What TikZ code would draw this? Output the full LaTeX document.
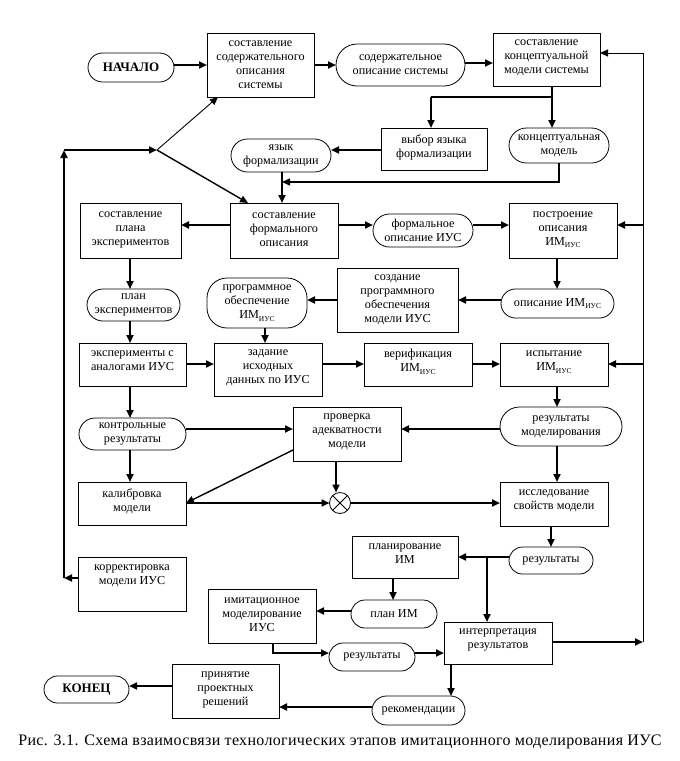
\documentclass[tikz,border=0pt]{standalone}
\usepackage{fontspec}
\setmainfont{Liberation Serif}
\newfontfamily\nodefont{Liberation Serif}
\newfontfamily\capfont{Liberation Serif}[LetterSpace=2]
\usetikzlibrary{arrows.meta}
\newcommand\imius{ИМ\raisebox{-2.5pt}{\fontsize{7.5}{8}\selectfont ИУС}}
\newcommand\bt[4]{\parbox[c][#2pt][c]{#1pt}{\centering #4\par\vspace{#3pt}}}
\tikzset{
  every node/.style={inner sep=0pt, outer sep=0pt},
  box/.style={draw, line width=0.9pt, font=\nodefont\fontsize{12.2}{14}\selectfont},
  oval/.style={draw, rectangle, rounded corners=#1, line width=0.8pt, align=center, font=\nodefont\fontsize{12.2}{14}\selectfont},
  tip/.style={-{Triangle[length=8pt,width=7pt]}},
  arr/.style={line width=2pt, tip},
  marr/.style={line width=1.4pt, tip},
  tarr/.style={line width=0.9pt, tip},
}
\begin{document}
\begin{tikzpicture}[x=1pt,y=-1pt]
\useasboundingbox (0,0) rectangle (680,761);
\fill[white] (0,0) rectangle (680,761);

% terminal nodes
\node[oval=14.5pt, minimum width=86pt, minimum height=29pt, font=\nodefont\bfseries\fontsize{13}{14}\selectfont] (start) at (131,67.5) {НАЧАЛО};
\node[oval=13.5pt, minimum width=85pt, minimum height=27pt, font=\nodefont\bfseries\fontsize{13}{14}\selectfont] (end) at (86.5,689.5) {КОНЕЦ};

% boxes
\node[box] (s1) at (260.5,65) {\bt{107}{64}{0}{составление\\содержательного\\описания\\системы}};
\node[box] (s2) at (546.5,59.5) {\bt{107}{53}{3}{составление\\концептуальной\\модели системы}};
\node[box] (s3) at (434,149) {\bt{106}{42}{3}{выбор языка\\формализации}};
\node[box] (s4) at (130.5,230.5) {\bt{101}{55}{2}{составление\\плана\\экспериментов}};
\node[box] (s5) at (284,230.5) {\bt{108}{55}{2}{составление\\формального\\описания}};
\node[box] (s6) at (563,230.5) {\bt{108}{55}{2}{построение\\описания\\\imius}};
\node[box] (s7) at (397.5,300) {\bt{121}{64}{0}{создание\\программного\\обеспечения\\модели ИУС}};
\node[box] (s8) at (132.5,364.5) {\bt{107}{43}{7}{эксперименты с\\аналогами ИУС}};
\node[box] (s9) at (268,369.5) {\bt{108}{53}{3}{задание\\исходных\\данных по ИУС}};
\node[box] (s10) at (418,364.5) {\bt{108}{43}{5}{верификация\\\imius}};
\node[box] (s11) at (554,364.5) {\bt{108}{43}{5}{испытание\\\imius}};
\node[box] (s12) at (347,434) {\bt{108}{54}{4}{проверка\\адекватности\\модели}};
\node[box] (s13) at (132,503.5) {\bt{108}{43}{5}{калибровка\\модели}};
\node[box] (s14) at (554,504) {\bt{108}{44}{6}{исследование\\свойств модели}};
\node[box] (s15) at (405,557) {\bt{106}{42}{6}{планирование\\ИМ}};
\node[box] (s16) at (262,616) {\bt{108}{54}{2}{имитационное\\моделирование\\ИУС}};
\node[box] (s17) at (498,643) {\bt{108}{42}{6}{интерпретация\\результатов}};
\node[box] (s18) at (225.5,691) {\bt{107}{54}{2}{принятие\\проектных\\решений}};
\node[box] (s19) at (132,584) {\bt{108}{54}{17}{корректировка\\модели ИУС}};

% data ovals
\node[oval=21pt, minimum width=129pt, minimum height=42pt] (d1) at (400.5,65) {содержательное\\описание системы};
\node[oval=17.5pt, minimum width=100pt, minimum height=35pt] (d2) at (559,145.5) {концептуальная\\модель};
\node[oval=16.5pt, minimum width=100pt, minimum height=33pt] (d3) at (281,155.5) {язык\\формализации};
\node[oval=16.5pt, minimum width=100pt, minimum height=33pt] (d4) at (423,230.5) {формальное\\описание ИУС};
\node[oval=14.5pt, minimum width=113pt, minimum height=29pt] (d5) at (557.5,303.5) {описание \imius};
\node[oval=20pt, minimum width=100pt, minimum height=50pt] (d6) at (257,303) {программное\\обеспечение\\\imius};
\node[oval=16pt, minimum width=93pt, minimum height=32pt] (d7) at (133.5,305) {план\\экспериментов};
\node[oval=19.5pt, minimum width=122pt, minimum height=39pt] (d8) at (561,426.5) {результаты\\моделирования};
\node[oval=16pt, minimum width=107pt, minimum height=32pt] (d9) at (132.5,434) {контрольные\\результаты};
\node[oval=13.5pt, minimum width=84pt, minimum height=27pt] (d10) at (551,560.5) {результаты};
\node[oval=14pt, minimum width=86pt, minimum height=28pt] (d11) at (394,614) {план ИМ};
\node[oval=14pt, minimum width=86pt, minimum height=28pt] (d12) at (372,657) {результаты};
\node[oval=14.5pt, minimum width=93pt, minimum height=29pt] (d13) at (418.5,710.5) {рекомендации};

% summing junction
\node[draw, circle, minimum size=21pt, line width=0.8pt] (cx) at (340,503) {};
\draw[line width=0.8pt] (cx.north west) -- (cx.south east) (cx.north east) -- (cx.south west);

% caption
\node[font=\capfont\fontsize{16}{18}\selectfont] (cap) at (340,742) {Рис. 3.1. Схема взаимосвязи технологических этапов имитационного моделирования ИУС};

% helper coordinates
\coordinate (j1) at (552,97);
\coordinate (j2) at (282,182);
\coordinate (j3) at (487,557);
\coordinate (lb) at (64,578);
\coordinate (lt) at (64,150);
\coordinate (sp) at (157,150);
\coordinate (rb) at (643,642);
\coordinate (rt) at (643,53);

% connectors
\draw[arr] (start.east |- 0,65) -- (s1.west |- 0,65);
\draw[arr] (s1.east |- 0,65) -- (d1.west |- 0,65);
\draw[arr] (d1.east |- 0,63) -- (s2.west |- 0,63);
\draw[arr] (s2.south -| j1) -- (j1 |- d2.north);
\draw[line width=1.2pt] (j1) -- (j1 -| 431,0);
\draw[arr] (j1 -| 431,0) -- (s3.north -| 431,0);
\draw[arr] (s3.west |- 0,150) -- (d3.east |- 0,150);
\draw[marr] (d2.south -| 559,0) -- (559,182) -- (j2);
\draw[arr] (d3.south -| j2) -- (s5.north -| j2);

\draw[arr] (s19.west |- lb) -- (lb);
\draw[arr] (lb) -- (lt);
\draw[arr] (lt) -- (sp);
\draw[tarr] (sp) -- (s1.south -| 218,0);
\draw[marr] (sp) -- (s5.north -| 248,0);

\draw[arr] (s5.west |- 0,225) -- (s4.east |- 0,225);
\draw[arr] (s5.east |- 0,225) -- (d4.west |- 0,225);
\draw[arr] (d4.east |- 0,225) -- (s6.west |- 0,225);
\draw[arr] (s6.south -| 557,0) -- (d5.north -| 557,0);
\draw[arr] (d5.west |- 0,300) -- (s7.east |- 0,300);
\draw[arr] (s7.west |- 0,300) -- (d6.east |- 0,300);
\draw[arr] (d6.south -| 265,0) -- (s9.north -| 265,0);
\draw[arr] (s4.south -| 130,0) -- (d7.north -| 130,0);
\draw[arr] (d7.south -| 130,0) -- (s8.north -| 130,0);
\draw[arr] (s8.east |- 0,364) -- (s9.west |- 0,364);
\draw[arr] (s9.east |- 0,364) -- (s10.west |- 0,364);
\draw[arr] (s10.east |- 0,364) -- (s11.west |- 0,364);
\draw[arr] (s11.south -| 557,0) -- (d8.north -| 557,0);
\draw[arr] (d8.west |- 0,429) -- (s12.east |- 0,429);
\draw[arr] (d9.east |- 0,429) -- (s12.west |- 0,429);
\draw[arr] (s8.south -| 130,0) -- (d9.north -| 130,0);
\draw[arr] (d9.south -| 130,0) -- (s13.north -| 130,0);
\draw[marr] (s12.west |- 0,450) -- (s13.east |- 0,503);
\draw[arr] (s12.south -| 336,0) -- (cx.north -| 336,0);
\draw[arr] (s13.east |- cx.west) -- (cx.west);
\draw[arr] (cx.east) -- (s14.west |- cx.east);
\draw[arr] (d8.south -| 557,0) -- (s14.north -| 557,0);
\draw[arr] (s14.south -| 551,0) -- (d10.north -| 551,0);
\draw[arr] (d10.west |- j3) -- (s15.east |- j3);
\draw[arr] (j3) -- (s17.north -| j3);
\draw[arr] (s15.south -| 393,0) -- (d11.north -| 393,0);
\draw[arr] (d11.west |- 0,611) -- (s16.east |- 0,611);
\draw[arr] (s16.south -| 273,0) |- (d12.west |- 0,653);
\draw[arr] (d12.east |- 0,653) -- (s17.west |- 0,653);
\draw[arr] (s17.east |- rb) -- (rb);
\draw[line width=1pt] (rb) -- (rt);
\draw[tarr] (rt) -- (s2.east |- rt);
\draw[arr] (rb |- 0,225) -- (s6.east |- 0,225);
\draw[arr] (rb |- 0,364) -- (s11.east |- 0,364);
\draw[arr] (s17.south -| 451,0) -- (d13.north -| 451,0);
\draw[arr] (d13.west |- 0,707) -- (s18.east |- 0,707);
\draw[arr] (s18.west |- 0,686) -- (end.east |- 0,686);
\end{tikzpicture}
\end{document}
